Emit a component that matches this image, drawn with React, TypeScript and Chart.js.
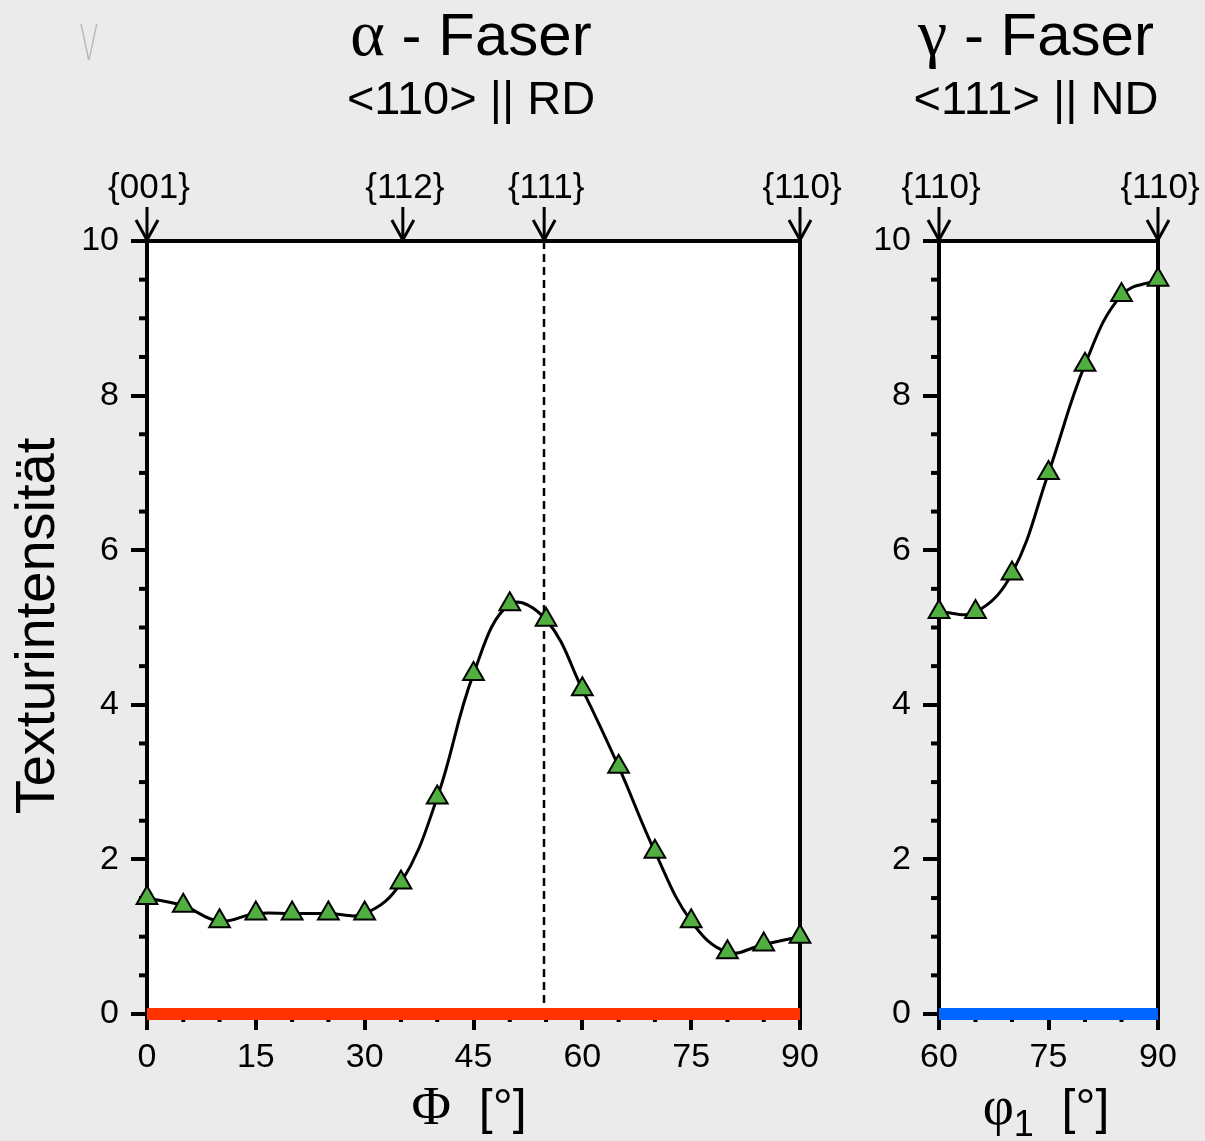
import React, { useEffect, useRef } from "react";
import { Chart, registerables } from "chart.js";
Chart.register(...registerables);

// ---------- data ----------
const alphaPhi = [0, 5, 10, 15, 20, 25, 30, 35, 40, 45, 50, 55, 60, 65, 70, 75, 80, 85, 90];
const alphaIntensity = [1.5, 1.4, 1.2, 1.3, 1.3, 1.3, 1.3, 1.7, 2.8, 4.4, 5.3, 5.1, 4.2, 3.2, 2.1, 1.2, 0.8, 0.9, 1.0];
const alphaMarkerPos = [0, 35.26, 54.74, 90];
const alphaMarkerLabels = ["{001}", "{112}", "{111}", "{110}"];
const alphaDashedAt = [54.74];
const alphaRange = [0, 90];

const gammaPhi1 = [60, 65, 70, 75, 80, 85, 90];
const gammaIntensity = [5.2, 5.2, 5.7, 7.0, 8.4, 9.3, 9.5];
const gammaMarkerPos = [60, 90];
const gammaMarkerLabels = ["{110}", "{110}"];
const gammaRange = [60, 90];

const yRange = [0, 10];
const yMajorStep = 2;
const yMinorStep = 0.5;
const xMajorStep = 15;
const xMinorStep = 5;

// ---------- styles ----------
const SANS = "'Liberation Sans', Arial, Helvetica, sans-serif";
const SERIF = "'Liberation Serif', 'Times New Roman', serif";
const GREEN = "#50af40";
const BG = "#ebebeb";

type Run = { text: string; font: string; dy?: number };

function drawRuns(ctx: CanvasRenderingContext2D, runs: Run[], cx: number, baseline: number) {
  let total = 0;
  const widths = runs.map((r) => {
    ctx.font = r.font;
    const w = ctx.measureText(r.text).width;
    total += w;
    return w;
  });
  let x = cx - total / 2;
  ctx.textAlign = "left";
  ctx.textBaseline = "alphabetic";
  runs.forEach((r, i) => {
    ctx.font = r.font;
    ctx.fillText(r.text, x, baseline + (r.dy || 0));
    x += widths[i];
  });
}

type PanelOpts = {
  xs: number[];
  ys: number[];
  range: number[];
  markerPos: number[];
  markerLabels: string[];
  dashed: number[];
  baselineColor: string;
  padLeft: number;
  padRight: number;
  titleCx: number;
  title: Run[];
  subtitle: string;
  xTitleCx: number;
  xTitle: Run[];
  extra?: (ctx: CanvasRenderingContext2D) => void;
};

function makeConfig(o: PanelOpts): any {
  const framePlugin = {
    id: "frame",
    beforeDraw(chart: any) {
      const { ctx, chartArea: a } = chart;
      ctx.save();
      ctx.fillStyle = "#ffffff";
      ctx.fillRect(a.left, a.top, a.right - a.left, a.bottom - a.top);
      ctx.restore();
    },
    beforeDatasetsDraw(chart: any) {
      const { ctx, chartArea: a, scales } = chart;
      const xs = scales.x;
      const ys = scales.y;
      ctx.save();
      // dashed reference line
      ctx.strokeStyle = "#000";
      ctx.lineWidth = 2.5;
      ctx.setLineDash([8, 5]);
      o.dashed.forEach((v) => {
        const px = Math.round(xs.getPixelForValue(v));
        ctx.beginPath();
        ctx.moveTo(px, a.top);
        ctx.lineTo(px, a.bottom);
        ctx.stroke();
      });
      ctx.setLineDash([]);
      // top & right frame
      ctx.lineWidth = 4;
      ctx.beginPath();
      ctx.moveTo(a.left - 2, a.top);
      ctx.lineTo(a.right, a.top);
      ctx.lineTo(a.right, a.bottom + 14);
      ctx.stroke();
      // minor ticks
      ctx.lineWidth = 4;
      for (let v = o.range[0]; v <= o.range[1] + 1e-9; v += xMinorStep) {
        if (Math.abs(v % xMajorStep) < 1e-9) continue;
        const px = xs.getPixelForValue(v);
        ctx.beginPath();
        ctx.moveTo(px, a.bottom);
        ctx.lineTo(px, a.bottom + 8);
        ctx.stroke();
      }
      for (let v = yRange[0]; v <= yRange[1] + 1e-9; v += yMinorStep) {
        if (Math.abs(v % yMajorStep) < 1e-9) continue;
        const py = ys.getPixelForValue(v);
        ctx.beginPath();
        ctx.moveTo(a.left - 8, py);
        ctx.lineTo(a.left, py);
        ctx.stroke();
      }
      ctx.restore();
    },
    afterDraw(chart: any) {
      const { ctx, chartArea: a, scales } = chart;
      const xs = scales.x;
      ctx.save();
      ctx.fillStyle = "#000";
      ctx.strokeStyle = "#000";
      // arrows and labels
      o.markerPos.forEach((v, i) => {
        const px = xs.getPixelForValue(v);
        ctx.lineWidth = 3;
        ctx.beginPath();
        ctx.moveTo(px, a.top - 34);
        ctx.lineTo(px, a.top - 2);
        ctx.stroke();
        ctx.beginPath();
        ctx.moveTo(px - 11, a.top - 21);
        ctx.lineTo(px, a.top - 1);
        ctx.lineTo(px + 11, a.top - 21);
        ctx.stroke();
        ctx.font = `35px ${SANS}`;
        ctx.textAlign = "center";
        ctx.textBaseline = "alphabetic";
        ctx.fillText(o.markerLabels[i], px + 2, 198);
      });
      // titles
      drawRuns(ctx, o.title, o.titleCx, 55);
      drawRuns(ctx, [{ text: o.subtitle, font: `47px ${SANS}` }], o.titleCx, 114);
      drawRuns(ctx, o.xTitle, o.xTitleCx, 1124);
      if (o.extra) o.extra(ctx);
      ctx.restore();
    },
  };

  const tickFont = { size: 34, family: SANS };
  const gridOpts = {
    drawOnChartArea: false,
    drawTicks: true,
    tickLength: 16,
    tickWidth: 4,
    lineWidth: 4,
    tickColor: "#000",
    color: "#000",
  };
  return {
    type: "line",
    data: {
      datasets: [
        {
          data: o.xs.map((x, i) => ({ x, y: o.ys[i] })),
          borderColor: "#000",
          borderWidth: 3,
          tension: 0.4,
          pointStyle: "triangle",
          pointRadius: 12,
          pointBackgroundColor: GREEN,
          pointBorderColor: "#000",
          pointBorderWidth: 2,
          clip: false,
        },
        {
          data: o.range.map((x) => ({ x, y: 0 })),
          borderColor: o.baselineColor,
          borderWidth: 12,
          pointRadius: 0,
          clip: false,
        },
      ],
    },
    options: {
      responsive: false,
      maintainAspectRatio: false,
      animation: false,
      devicePixelRatio: 1,
      layout: { padding: { left: o.padLeft, right: o.padRight, top: 241, bottom: 57 } },
      plugins: { legend: { display: false }, tooltip: { enabled: false }, title: { display: false } },
      scales: {
        x: {
          type: "linear",
          min: o.range[0],
          max: o.range[1],
          ticks: { stepSize: xMajorStep, font: tickFont, color: "#000", padding: 7, maxRotation: 0, autoSkip: false },
          grid: gridOpts,
          border: { display: true, color: "#000", width: 4 },
          afterFit: (s: any) => {
            s.height = 70;
          },
        },
        y: {
          type: "linear",
          min: yRange[0],
          max: yRange[1],
          ticks: { stepSize: yMajorStep, font: tickFont, color: "#000", padding: 12 },
          grid: gridOpts,
          border: { display: true, color: "#000", width: 4 },
          afterFit: (s: any) => {
            s.width = 87;
          },
        },
      },
    },
    plugins: [framePlugin],
  };
}

export default function App() {
  const leftRef = useRef<HTMLCanvasElement | null>(null);
  const rightRef = useRef<HTMLCanvasElement | null>(null);

  useEffect(() => {
    const left = new Chart(
      leftRef.current as HTMLCanvasElement,
      makeConfig({
        xs: alphaPhi,
        ys: alphaIntensity,
        range: alphaRange,
        markerPos: alphaMarkerPos,
        markerLabels: alphaMarkerLabels,
        dashed: alphaDashedAt,
        baselineColor: "#ff3300",
        padLeft: 60,
        padRight: 405,
        titleCx: 471,
        title: [
          { text: "α", font: `66px ${SERIF}` },
          { text: " - Faser", font: `60px ${SANS}` },
        ],
        subtitle: "<110> || RD",
        xTitleCx: 469,
        xTitle: [
          { text: "Φ", font: `54px ${SERIF}` },
          { text: "  [°]", font: `50px ${SANS}` },
        ],
        extra: (ctx) => {
          ctx.save();
          ctx.fillStyle = "#000";
          ctx.translate(54, 626);
          ctx.rotate(-Math.PI / 2);
          ctx.font = `56px ${SANS}`;
          ctx.textAlign = "center";
          ctx.textBaseline = "alphabetic";
          ctx.fillText("Texturintensität", 0, 0);
          ctx.restore();
          ctx.save();
          ctx.fillStyle = "#b8b8b8";
          ctx.translate(89, 60);
          ctx.scale(0.55, 1);
          ctx.font = `200 50px 'DejaVu Sans', sans-serif`;
          ctx.textAlign = "center";
          ctx.fillText("V", 0, 0);
          ctx.restore();
        },
      })
    );
    const right = new Chart(
      rightRef.current as HTMLCanvasElement,
      makeConfig({
        xs: gammaPhi1,
        ys: gammaIntensity,
        range: gammaRange,
        markerPos: gammaMarkerPos,
        markerLabels: gammaMarkerLabels,
        dashed: [],
        baselineColor: "#0066ff",
        padLeft: 852,
        padRight: 47,
        titleCx: 1036,
        title: [
          { text: "γ", font: `66px ${SERIF}` },
          { text: " - Faser", font: `60px ${SANS}` },
        ],
        subtitle: "<111> || ND",
        xTitleCx: 1046,
        xTitle: [
          { text: "φ", font: `54px ${SERIF}` },
          { text: "1", font: `36px ${SANS}`, dy: 12 },
          { text: "  [°]", font: `50px ${SANS}` },
        ],
      })
    );
    return () => {
      left.destroy();
      right.destroy();
    };
  }, []);

  const canvasStyle: React.CSSProperties = { position: "absolute", left: 0, top: 0, width: 1205, height: 1141 };
  return (
    <div style={{ position: "fixed", left: 0, top: 0, width: 1205, height: 1141, background: BG, overflow: "hidden" }}>
      <canvas ref={leftRef} width={1205} height={1141} style={canvasStyle} />
      <canvas ref={rightRef} width={1205} height={1141} style={canvasStyle} />
    </div>
  );
}
